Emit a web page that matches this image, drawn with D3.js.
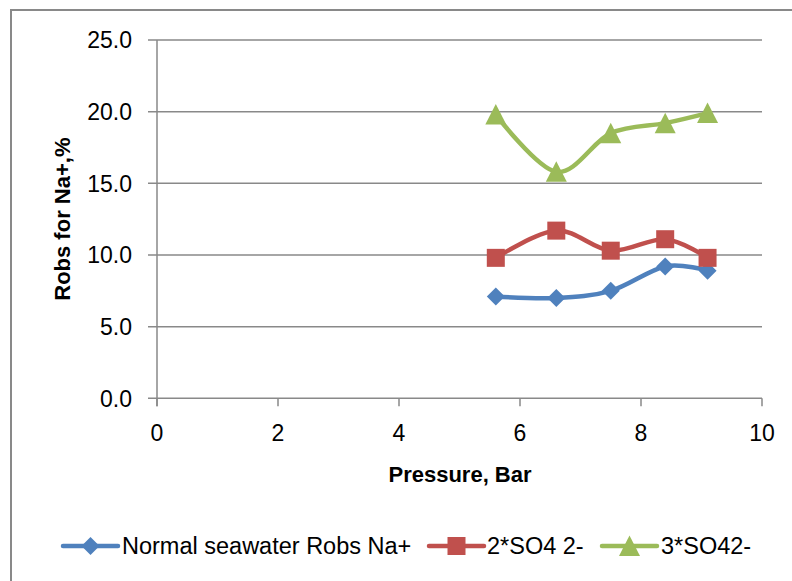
<!DOCTYPE html>
<html>
<head>
<meta charset="utf-8">
<script src="https://cdn.jsdelivr.net/npm/d3@7"></script>
<style>
  html, body { margin: 0; padding: 0; background: #fff; }
  svg text { font-family: "Liberation Sans", Arial, sans-serif; fill: #000; }
</style>
</head>
<body>
<svg id="chart" width="792" height="581"></svg>
<script>
// Pressure (bar) and observed Na+ rejection (%) for three feed waters
const pressure = [5.6, 6.6, 7.5, 8.4, 9.1];
const normalSeawater = [7.1, 7.0, 7.5, 9.2, 8.9];
const doubleSulfate = [9.8, 11.7, 10.3, 11.1, 9.8];
const tripleSulfate = [19.8, 15.8, 18.5, 19.2, 19.9];

const seriesNames = ["Normal seawater Robs Na+", "2*SO4 2-", "3*SO42-"];
const seriesColors = ["#4F81BD", "#C0504D", "#9BBB59"];
const seriesShapes = ["diamond", "square", "triangle"];
const xTicks = [0, 2, 4, 6, 8, 10];
const yTicks = [0, 5, 10, 15, 20, 25];

const series = [normalSeawater, doubleSulfate, tripleSulfate].map((vals, i) => ({
  name: seriesNames[i],
  color: seriesColors[i],
  shape: seriesShapes[i],
  points: vals.map((v, j) => ({ x: pressure[j], y: v }))
}));

const svg = d3.select("#chart");
const gridColor = "#898989";

// Chart frame
svg.append("rect")
  .attr("x", 11).attr("y", 10)
  .attr("width", 800).attr("height", 600)
  .attr("fill", "none").attr("stroke", gridColor).attr("stroke-width", 2);

const x = d3.scaleLinear().domain([0, 10]).range([157, 762]);
const y = d3.scaleLinear().domain([0, 25]).range([398.3, 40]);

// Horizontal gridlines (extend left as tick marks)
svg.append("g").selectAll("line").data(yTicks).join("line")
  .attr("x1", 148).attr("x2", x(10))
  .attr("y1", d => y(d)).attr("y2", d => y(d))
  .attr("stroke", gridColor).attr("stroke-width", 1.5);

// Y axis line
svg.append("line")
  .attr("x1", x(0)).attr("x2", x(0))
  .attr("y1", y(25)).attr("y2", y(0) + 8)
  .attr("stroke", gridColor).attr("stroke-width", 1.5);

// X tick marks
svg.append("g").selectAll("line").data(xTicks).join("line")
  .attr("x1", d => x(d)).attr("x2", d => x(d))
  .attr("y1", y(0)).attr("y2", y(0) + 8)
  .attr("stroke", gridColor).attr("stroke-width", 1.5);

// Tick labels
svg.append("g").selectAll("text").data(yTicks).join("text")
  .attr("x", 132).attr("y", d => y(d))
  .attr("dy", "0.36em")
  .attr("text-anchor", "end")
  .attr("font-size", 23)
  .text(d => d3.format(".1f")(d));

svg.append("g").selectAll("text").data(xTicks).join("text")
  .attr("x", d => x(d)).attr("y", 441)
  .attr("text-anchor", "middle")
  .attr("font-size", 23)
  .text(d => d);

// Axis titles
svg.append("text")
  .attr("x", 460).attr("y", 482)
  .attr("text-anchor", "middle")
  .attr("font-size", 22).attr("font-weight", "bold")
  .text("Pressure, Bar");

svg.append("text")
  .attr("transform", `translate(70, ${(y(0) + y(25)) / 2}) rotate(-90)`)
  .attr("text-anchor", "middle")
  .attr("font-size", 22).attr("font-weight", "bold")
  .text("Robs for Na+,%");

// Marker shapes
function marker(sel, shape, color) {
  if (shape === "diamond") {
    sel.append("path").attr("d", "M0,-9L9,0L0,9L-9,0Z").attr("fill", color);
  } else if (shape === "square") {
    sel.append("rect").attr("x", -9).attr("y", -9).attr("width", 18).attr("height", 18).attr("fill", color);
  } else {
    sel.append("path").attr("d", "M0,-10.5L10.5,10L-10.5,10Z").attr("fill", color);
  }
}

const line = d3.line()
  .x(d => x(d.x)).y(d => y(d.y))
  .curve(d3.curveCardinal.tension(0));

series.forEach(s => {
  svg.append("path")
    .datum(s.points)
    .attr("d", line)
    .attr("fill", "none")
    .attr("stroke", s.color)
    .attr("stroke-width", 4.5)
    .attr("stroke-linejoin", "round")
    .attr("stroke-linecap", "round");
  s.points.forEach(p => {
    const g = svg.append("g").attr("transform", `translate(${x(p.x)},${y(p.y)})`);
    marker(g, s.shape, s.color);
  });
});

// Legend
const legendY = 546;
const legendItems = [
  { x0: 63, textX: 122 },
  { x0: 429, textX: 487 },
  { x0: 602, textX: 661 }
];
series.forEach((s, i) => {
  const li = legendItems[i];
  svg.append("line")
    .attr("x1", li.x0).attr("x2", li.x0 + 55)
    .attr("y1", legendY).attr("y2", legendY)
    .attr("stroke", s.color).attr("stroke-width", 4.5)
    .attr("stroke-linecap", "round");
  const g = svg.append("g").attr("transform", `translate(${li.x0 + 27.5},${legendY})`);
  marker(g, s.shape, s.color);
  svg.append("text")
    .attr("x", li.textX).attr("y", legendY)
    .attr("dy", "0.36em")
    .attr("font-size", 23.5)
    .text(s.name);
});
</script>
</body>
</html>
